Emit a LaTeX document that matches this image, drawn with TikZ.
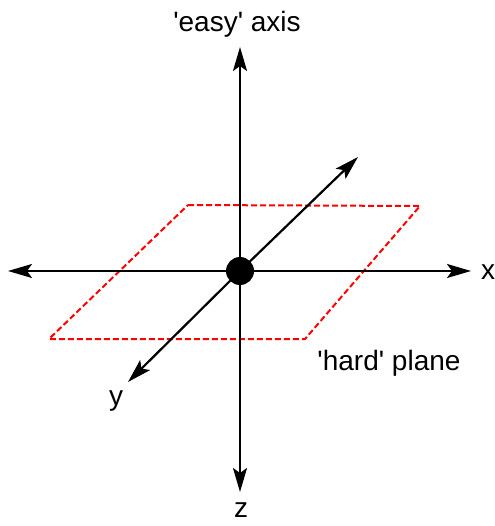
\documentclass[tikz,border=0pt]{standalone}
\usepackage{fontspec}
\setmainfont{Liberation Sans}
\usetikzlibrary{arrows.meta}
\begin{document}
\begin{tikzpicture}[x=1pt,y=-1pt,
  axis/.style={line width=2.2pt,-{Stealth[length=24pt,width=14pt,inset=5pt]}},
  plane/.style={red,line width=2pt,dash pattern=on 6pt off 3pt},
  lbl/.style={font=\fontsize{28}{30}\selectfont,inner sep=0pt,anchor=base}]
\useasboundingbox (0,0) rectangle (494,526);
\coordinate (O) at (240,271);
\coordinate (top) at (240,47);
\coordinate (bot) at (240,492);
\coordinate (left) at (8,271);
\coordinate (right) at (471,271);
\coordinate (yfar) at (358,157);
\coordinate (ynear) at (128,382);
\coordinate (p1) at (188,205);
\coordinate (p2) at (420,206);
\coordinate (p3) at (305,339);
\coordinate (p4) at (49,339);
\draw[plane] (p1) -- (p2) -- (p3) -- (p4) -- cycle;
\draw[axis] (O) -- (top);
\draw[axis] (O) -- (bot);
\draw[axis] (O) -- (left);
\draw[axis] (O) -- (right);
\draw[axis] (O) -- (yfar);
\draw[axis] (O) -- (ynear);
\fill (O) circle (14pt);
\node[lbl] (easy) at (237,32) {\textquotesingle easy\textquotesingle{} axis};
\node[lbl] (hard) at (389,370) {\textquotesingle hard\textquotesingle{} plane};
\node[lbl] (xl) at (488,279) {x};
\node[lbl] (yl) at (116,405) {y};
\node[lbl] (zl) at (241,517) {z};
\end{tikzpicture}
\end{document}
